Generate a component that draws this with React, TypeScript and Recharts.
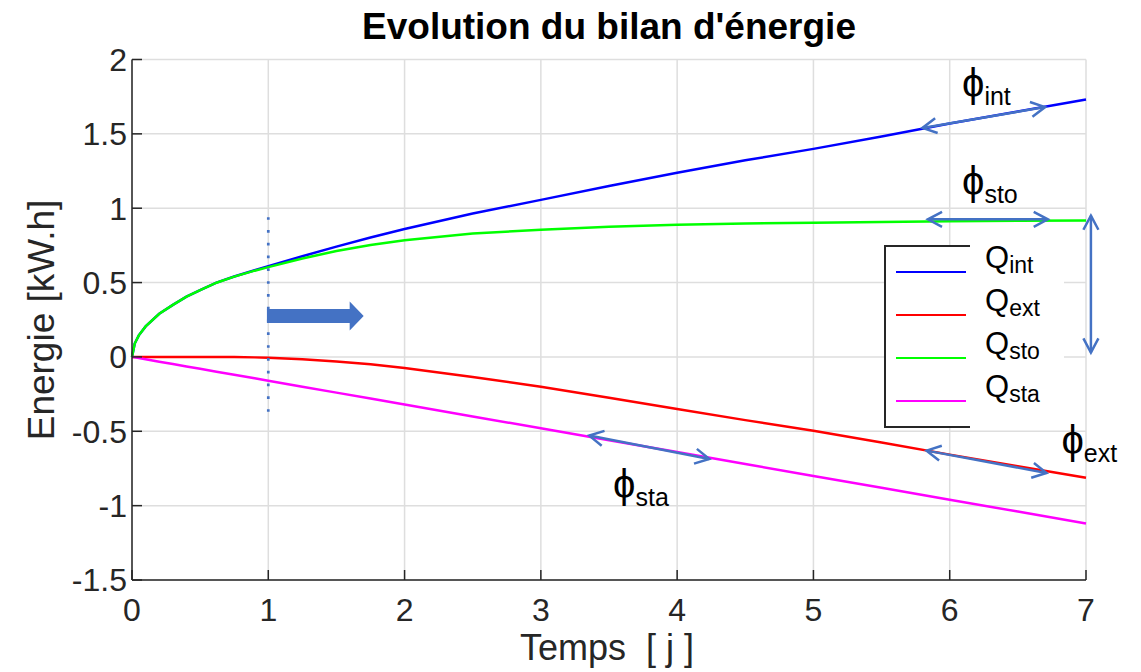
import {
    LineChart,
    Line,
    XAxis,
    YAxis,
    CartesianGrid,
    Legend,
    ReferenceLine,
    ReferenceDot
} from "recharts";

// temps en jours
const temps = [0, 0.02, 0.05, 0.1, 0.2, 0.3, 0.4, 0.5, 0.62, 0.75, 0.9, 1, 1.25, 1.5, 1.75, 2, 2.5, 3, 3.5, 4, 4.5, 5, 5.5, 6, 6.5, 7];
const qInt = [0, 0.09, 0.145, 0.205, 0.29, 0.35, 0.405, 0.45, 0.5, 0.541, 0.583, 0.61, 0.677, 0.742, 0.803, 0.86, 0.965, 1.056, 1.15, 1.238, 1.322, 1.399, 1.482, 1.569, 1.65, 1.731];
const qExt = [0, 0, 0, 0, 0, 0, 0, -0.001, -0.001, -0.001, -0.003, -0.006, -0.015, -0.03, -0.05, -0.075, -0.135, -0.2, -0.275, -0.35, -0.425, -0.497, -0.575, -0.657, -0.735, -0.813];
const qSto = [0, 0.09, 0.145, 0.205, 0.29, 0.35, 0.405, 0.449, 0.499, 0.54, 0.58, 0.604, 0.662, 0.712, 0.753, 0.785, 0.83, 0.856, 0.875, 0.888, 0.897, 0.902, 0.907, 0.912, 0.915, 0.918];
const qSta = [0, -0.003, -0.008, -0.016, -0.032, -0.048, -0.064, -0.08, -0.099, -0.12, -0.144, -0.16, -0.2, -0.24, -0.28, -0.32, -0.4, -0.48, -0.56, -0.64, -0.72, -0.8, -0.88, -0.96, -1.04, -1.12];

const xTicks = [0, 1, 2, 3, 4, 5, 6, 7];
const yTicks = [-1.5, -1, -0.5, 0, 0.5, 1, 1.5, 2];
const legendOrder = ["Q_int", "Q_ext", "Q_sto", "Q_sta"];

// flèches (début -> fin) en coordonnées du graphe
const phiArrows = [
    { name: "int", from: [5.8, 1.54], to: [6.7, 1.68] },
    { name: "sto", from: [5.84, 0.925], to: [6.72, 0.925] },
    { name: "sta", from: [3.355, -0.529], to: [4.236, -0.686] },
    { name: "ext", from: [5.83, -0.63], to: [6.71, -0.78] },
    { name: "sto-v", from: [7.036, 0.95], to: [7.036, 0.03] },
];
const phiLabels = [
    { sub: "int", x: 6.09, y: 1.75 },
    { sub: "sto", x: 6.09, y: 1.09 },
    { sub: "sta", x: 3.53, y: -0.946 },
    { sub: "ext", x: 6.82, y: -0.65 },
];

const data = temps.map((t, i) => ({
    t,
    qInt: qInt[i],
    qExt: qExt[i],
    qSto: qSto[i],
    qSta: qSta[i],
}));

const ARROW = "#4472C4";
const AXIS = "#262626";
const FONT = "'Liberation Sans', Arial, Helvetica, sans-serif";

const DoubleArrow = (props: any) => {
    const { x1, y1, x2, y2 } = props;
    const a = Math.atan2(y2 - y1, x2 - x1);
    const L = 16;
    const th = (28 * Math.PI) / 180;
    const p = (x: number, y: number, ang: number, s: number) =>
        `${x + s * L * Math.cos(ang)},${y + s * L * Math.sin(ang)}`;
    const head1 = `${p(x1, y1, a + th, 1)} ${x1},${y1} ${p(x1, y1, a - th, 1)}`;
    const head2 = `${p(x2, y2, a + th, -1)} ${x2},${y2} ${p(x2, y2, a - th, -1)}`;
    return (
        <g stroke={ARROW} strokeWidth={2.5} fill="none">
            <line x1={x1} y1={y1} x2={x2} y2={y2} />
            <polyline points={head1} />
            <polyline points={head2} />
        </g>
    );
};

const BlockArrow = (props: any) => {
    const { x1, y1, x2 } = props;
    const y = y1;
    const pts = [
        [x1, y - 7], [x2 - 14, y - 7], [x2 - 14, y - 14.5], [x2, y],
        [x2 - 14, y + 14.5], [x2 - 14, y + 7], [x1, y + 7],
    ].map(q => q.join(",")).join(" ");
    return <polygon points={pts} fill={ARROW} />;
};

const PhiLabel = (sub: string) => (props: any) => (
    <text x={props.cx} y={props.cy} fontFamily={FONT} fontSize={40} fill="#000">
        <tspan>ϕ</tspan>
        <tspan fontSize={25} dy={8}>{sub}</tspan>
    </text>
);

const renderLegend = ({ payload }: any) => {
    const items = [...(payload || [])].sort(
        (a: any, b: any) => legendOrder.indexOf(a.value) - legendOrder.indexOf(b.value)
    );
    return (
        <svg width={200} height={183} style={{ display: "block", overflow: "visible" }}>
            <rect x={0} y={0} width={180} height={183} fill="#fff" />
            <polyline points="86,1 1,1 1,182 86,182" fill="none" stroke={AXIS} strokeWidth={2} />
            {items.map((p: any, i: number) => {
                const [q, sub] = String(p.value).split("_");
                const y = 27 + i * 43;
                return (
                    <g key={p.value}>
                        <line x1={12} x2={82} y1={y} y2={y} stroke={p.color} strokeWidth={2} />
                        <text x={101} y={y - 4} fontFamily={FONT} fontSize={31} fill="#000">
                            <tspan>{q}</tspan>
                            <tspan fontSize={23} dy={5}>{sub}</tspan>
                        </text>
                    </g>
                );
            })}
        </svg>
    );
};

export default function App() {
    return (
        <div style={{ position: "absolute", left: 0, top: 0, width: 1141, height: 672, background: "#fff" }}>
            <div
                style={{
                    position: "absolute",
                    left: 132,
                    width: 954,
                    top: 5,
                    textAlign: "center",
                    fontFamily: FONT,
                    fontWeight: "bold",
                    fontSize: 37,
                    lineHeight: "44px",
                    color: "#000",
                }}
            >
                Evolution du bilan d'énergie
            </div>
            <LineChart
                width={1141}
                height={672}
                data={data}
                margin={{ top: 59.5, right: 55, bottom: 32, left: 52 }}
            >
                <CartesianGrid stroke="#dedede" strokeWidth={1.5} />
                <XAxis
                    dataKey="t"
                    type="number"
                    domain={[0, 7]}
                    ticks={xTicks}
                    height={60}
                    stroke={AXIS}
                    strokeWidth={1.5}
                    tickSize={-10}
                    tickMargin={28}
                    tick={{ fill: AXIS, fontSize: 32, fontFamily: FONT }}
                    label={{
                        content: () => (
                            <text x={607} y={660} textAnchor="middle" fontFamily={FONT} fontSize={36} fill={AXIS}>
                                {"Temps\u00A0\u00A0[ j ]"}
                            </text>
                        ),
                    }}
                />
                <YAxis
                    type="number"
                    domain={[-1.5, 2]}
                    ticks={yTicks}
                    width={80}
                    stroke={AXIS}
                    strokeWidth={1.5}
                    tickSize={-10}
                    tickMargin={15}
                    tick={{ fill: AXIS, fontSize: 32, fontFamily: FONT }}
                    label={{
                        content: () => (
                            <text
                                x={54}
                                y={320}
                                transform="rotate(-90, 54, 320)"
                                textAnchor="middle"
                                fontFamily={FONT}
                                fontSize={37}
                                fill={AXIS}
                            >
                                Energie [kW.h]
                            </text>
                        ),
                    }}
                />
                <Line type="linear" dataKey="qInt" name="Q_int" stroke="#0000ff" strokeWidth={2.5} dot={false} isAnimationActive={false} />
                <Line type="linear" dataKey="qExt" name="Q_ext" stroke="#ff0000" strokeWidth={2.5} dot={false} isAnimationActive={false} />
                <Line type="linear" dataKey="qSto" name="Q_sto" stroke="#00ff00" strokeWidth={2.5} dot={false} isAnimationActive={false} />
                <Line type="linear" dataKey="qSta" name="Q_sta" stroke="#ff00ff" strokeWidth={2.5} dot={false} isAnimationActive={false} />

                <ReferenceLine
                    segment={[{ x: 1, y: 0.94 }, { x: 1, y: -0.38 }]}
                    stroke={ARROW}
                    strokeWidth={2.7}
                    strokeDasharray="2.7 10.1"
                    ifOverflow="visible"
                />
                <ReferenceLine
                    segment={[{ x: 0.99, y: 0.276 }, { x: 1.7, y: 0.276 }]}
                    shape={BlockArrow}
                    ifOverflow="visible"
                />
                {phiArrows.map(a => (
                    <ReferenceLine
                        key={a.name}
                        segment={[{ x: a.from[0], y: a.from[1] }, { x: a.to[0], y: a.to[1] }]}
                        shape={DoubleArrow}
                        ifOverflow="visible"
                    />
                ))}
                {phiLabels.map(l => (
                    <ReferenceDot key={l.sub} x={l.x} y={l.y} ifOverflow="visible" shape={PhiLabel(l.sub)} />
                ))}

                <Legend
                    layout="vertical"
                    align="center"
                    verticalAlign="middle"
                    content={renderLegend}
                    wrapperStyle={{ position: "absolute", left: 884, top: 245, width: 200, height: 183 }}
                />
            </LineChart>
        </div>
    );
}
